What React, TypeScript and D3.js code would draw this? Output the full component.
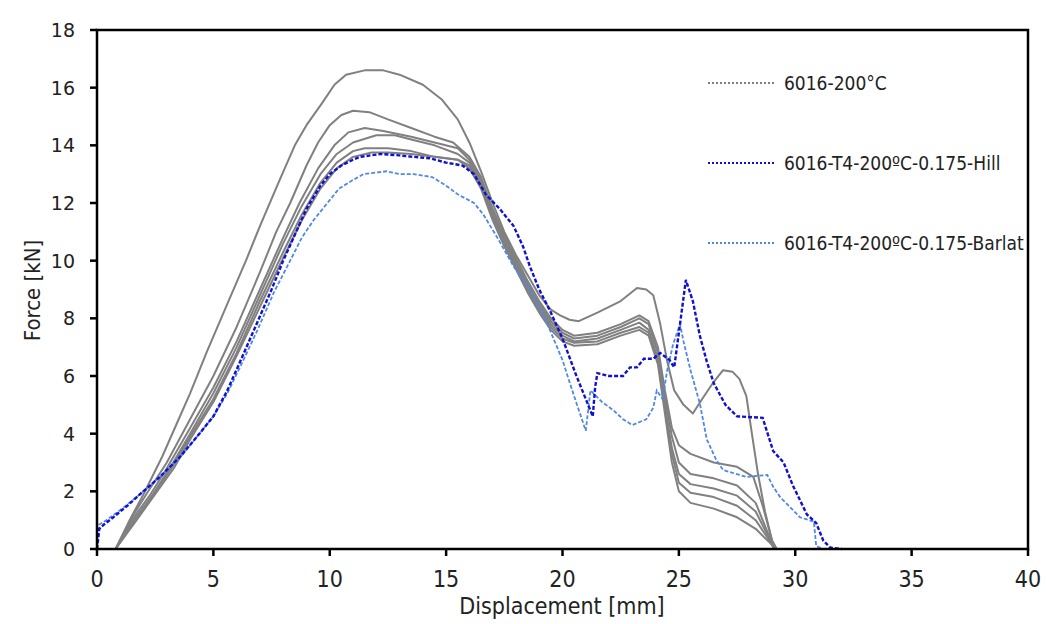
import React from "react";
import * as d3 from "d3";

// ---------- data ----------
const xTicks = [0, 5, 10, 15, 20, 25, 30, 35, 40];
const yTicks = [0, 2, 4, 6, 8, 10, 12, 14, 16, 18];

const legendLabels = ["6016-200°C", "6016-T4-200ºC-0.175-Hill", "6016-T4-200ºC-0.175-Barlat"];

const gray1: [number, number][] = [
  [0, 0], [0.8, 0], [1.4, 1.0], [2.0, 1.9], [2.8, 3.2], [3.4, 4.3], [4.0, 5.4], [4.7, 6.8], [5.6, 8.5], [6.4, 10.0],
  [7.0, 11.2], [7.9, 12.9], [8.5, 14.0], [9.0, 14.7], [9.7, 15.5], [10.2, 16.1], [10.7, 16.45], [11.5, 16.6], [12.3, 16.6],
  [13.0, 16.45], [14.0, 16.1], [14.8, 15.6], [15.5, 14.9], [16.0, 14.1], [16.5, 13.1], [17.0, 12.0], [17.5, 11.0], [18.0, 10.2],
  [18.5, 9.5], [19.0, 8.8], [19.5, 8.3], [19.9, 8.1], [20.3, 7.95], [20.7, 7.9], [21.5, 8.2], [22.5, 8.6], [23.2, 9.05],
  [23.6, 9.0], [23.9, 8.8], [24.2, 7.8], [24.5, 6.5], [24.8, 5.5], [25.2, 5.0], [25.6, 4.7], [26.0, 5.2], [26.5, 5.8],
  [26.9, 6.2], [27.3, 6.15], [27.6, 5.9], [27.9, 5.3], [28.1, 4.2], [28.4, 2.6], [28.7, 1.3], [29.0, 0.3], [29.2, 0],
];
const gray2: [number, number][] = [
  [0, 0], [0.8, 0], [1.5, 1.1], [2.2, 2.0], [3.0, 3.0], [4.0, 4.5], [5.0, 6.0], [6.0, 7.7], [7.0, 9.6], [7.7, 11.0], [8.3, 12.0],
  [9.0, 13.3], [9.5, 14.1], [10.0, 14.7], [10.5, 15.05], [11.0, 15.2], [11.7, 15.15], [12.5, 14.9], [13.5, 14.6], [14.5, 14.3],
  [15.3, 14.1], [16.0, 13.6], [16.5, 12.9], [17.0, 11.8], [17.5, 10.9], [18.0, 10.1], [18.5, 9.3], [19.0, 8.6], [19.5, 8.0],
  [20.0, 7.6], [20.5, 7.4], [21.5, 7.5], [22.5, 7.8], [23.3, 8.1], [23.7, 7.9], [24.1, 7.0], [24.4, 5.5], [24.7, 4.2],
  [25.0, 3.6], [25.5, 3.3], [26.5, 3.0], [27.5, 2.85], [28.2, 2.5], [28.6, 1.5], [29.0, 0.3], [29.2, 0],
];
const gray3: [number, number][] = [
  [0, 0], [0.8, 0], [1.5, 1.0], [2.3, 1.9], [3.0, 2.8], [4.0, 4.2], [5.0, 5.6], [6.0, 7.2], [7.0, 9.0], [8.0, 10.8], [8.7, 12.0],
  [9.5, 13.2], [10.2, 14.0], [10.8, 14.45], [11.5, 14.6], [12.3, 14.5], [13.5, 14.3], [14.5, 14.1], [15.5, 13.9], [16.0, 13.5],
  [16.5, 12.8], [17.0, 11.7], [17.5, 10.8], [18.0, 10.0], [18.5, 9.2], [19.0, 8.5], [19.5, 7.9], [20.0, 7.5], [20.5, 7.3],
  [21.5, 7.4], [22.5, 7.7], [23.3, 8.0], [23.7, 7.8], [24.1, 6.8], [24.4, 5.3], [24.7, 3.9], [25.0, 3.0], [25.5, 2.6],
  [26.5, 2.45], [27.5, 2.2], [28.3, 1.6], [28.8, 0.6], [29.1, 0],
];
const gray4: [number, number][] = [
  [0, 0], [0.8, 0], [1.6, 1.0], [2.4, 1.9], [3.2, 2.9], [4.0, 4.0], [5.0, 5.4], [6.0, 7.0], [7.0, 8.8], [8.0, 10.6], [8.8, 11.9],
  [9.6, 13.0], [10.3, 13.7], [11.0, 14.1], [12.0, 14.35], [12.8, 14.35], [13.5, 14.2], [14.5, 14.0], [15.5, 13.7], [16.0, 13.4],
  [16.5, 12.7], [17.0, 11.6], [17.5, 10.7], [18.0, 9.9], [18.5, 9.1], [19.0, 8.4], [19.5, 7.8], [20.0, 7.4], [20.5, 7.2],
  [21.5, 7.3], [22.5, 7.6], [23.3, 7.85], [23.7, 7.6], [24.1, 6.6], [24.4, 5.0], [24.7, 3.5], [25.0, 2.6], [25.5, 2.25],
  [26.5, 2.1], [27.5, 1.85], [28.3, 1.3], [28.8, 0.5], [29.1, 0],
];
const gray5: [number, number][] = [
  [0, 0], [0.8, 0], [1.6, 1.0], [2.4, 1.85], [3.2, 2.8], [4.0, 3.9], [5.0, 5.2], [6.0, 6.8], [7.0, 8.6], [8.0, 10.3], [8.8, 11.6],
  [9.6, 12.7], [10.3, 13.4], [11.0, 13.8], [11.5, 13.9], [12.5, 13.9], [13.5, 13.8], [14.5, 13.6], [15.5, 13.5], [16.0, 13.3],
  [16.5, 12.6], [17.0, 11.5], [17.5, 10.6], [18.0, 9.8], [18.5, 9.0], [19.0, 8.3], [19.5, 7.7], [20.0, 7.3], [20.5, 7.15],
  [21.5, 7.2], [22.5, 7.5], [23.3, 7.7], [23.7, 7.5], [24.1, 6.5], [24.4, 4.9], [24.7, 3.3], [25.0, 2.3], [25.5, 1.95],
  [26.5, 1.8], [27.5, 1.5], [28.3, 1.0], [28.8, 0.4], [29.1, 0],
];
const gray6: [number, number][] = [
  [0, 0], [0.8, 0], [1.7, 1.0], [2.5, 1.9], [3.3, 2.8], [4.0, 3.8], [5.0, 5.1], [6.0, 6.7], [7.0, 8.4], [8.0, 10.1], [8.8, 11.4],
  [9.6, 12.5], [10.3, 13.2], [11.0, 13.6], [11.8, 13.75], [12.5, 13.75], [13.5, 13.7], [14.5, 13.6], [15.5, 13.5], [16.0, 13.2],
  [16.5, 12.5], [17.0, 11.4], [17.5, 10.5], [18.0, 9.7], [18.5, 8.9], [19.0, 8.2], [19.5, 7.6], [20.0, 7.2], [20.5, 7.05],
  [21.5, 7.1], [22.5, 7.4], [23.3, 7.6], [23.7, 7.4], [24.1, 6.4], [24.4, 4.7], [24.7, 3.0], [25.0, 2.0], [25.5, 1.6],
  [26.5, 1.4], [27.5, 1.1], [28.3, 0.7], [28.8, 0.3], [29.2, 0], [35.0, 0],
];
const hill: [number, number][] = [
  [0, 0], [0.1, 0.7], [0.3, 0.85], [0.7, 1.1], [1.3, 1.5], [1.85, 1.9], [2.7, 2.5], [3.57, 3.2], [4.3, 3.9], [5.0, 4.6],
  [5.6, 5.5], [6.15, 6.5], [6.8, 7.7], [7.5, 9.0], [8.0, 10.0], [8.5, 10.9], [9.0, 11.8], [9.6, 12.6], [10.0, 13.0],
  [10.5, 13.3], [11.0, 13.5], [11.3, 13.6], [12.2, 13.7], [13.0, 13.65], [13.6, 13.6], [14.3, 13.55], [15.0, 13.4],
  [15.7, 13.3], [16.2, 13.0], [16.7, 12.3], [17.3, 11.8], [17.9, 11.2], [18.3, 10.5], [18.6, 9.8], [19.0, 9.0], [19.5, 8.2],
  [20.0, 7.3], [20.6, 6.0], [21.0, 5.2], [21.3, 4.6], [21.4, 5.6], [21.5, 6.1], [22.0, 6.0], [22.6, 6.0], [22.9, 6.3],
  [23.2, 6.3], [23.5, 6.6], [23.9, 6.6], [24.2, 6.8], [24.6, 6.55], [24.8, 6.3], [25.0, 7.5], [25.3, 9.33], [25.6, 8.6],
  [25.9, 7.4], [26.2, 6.5], [26.5, 5.75], [27.0, 5.0], [27.5, 4.6], [28.6, 4.55], [29.05, 3.4], [29.5, 3.0], [29.9, 2.2],
  [30.5, 1.2], [30.9, 0.9], [31.2, 0.3], [31.5, 0.05], [32.0, 0],
];
const barlat: [number, number][] = [
  [0, 0], [0.1, 0.85], [0.4, 1.0], [1.0, 1.35], [1.85, 1.9], [2.7, 2.5], [3.6, 3.2], [4.3, 3.9], [5.0, 4.6], [5.6, 5.4],
  [6.2, 6.4], [6.9, 7.6], [7.6, 8.9], [8.3, 10.0], [8.8, 10.8], [9.3, 11.4], [9.9, 12.0], [10.4, 12.5], [11.0, 12.8],
  [11.45, 13.0], [12.45, 13.1], [13.0, 13.0], [13.6, 13.0], [14.4, 12.9], [15.0, 12.6], [15.5, 12.3], [16.2, 12.0],
  [16.6, 11.6], [17.2, 10.8], [17.9, 9.8], [18.6, 9.0], [19.3, 7.9], [20.0, 6.55], [20.5, 5.3], [21.0, 4.1], [21.2, 5.5],
  [21.7, 5.1], [22.2, 4.8], [22.6, 4.5], [23.0, 4.3], [23.6, 4.5], [23.9, 4.9], [24.05, 5.5], [24.3, 5.2], [24.5, 6.2],
  [24.75, 7.1], [25.05, 7.8], [25.2, 7.2], [25.5, 6.2], [25.9, 5.05], [26.2, 3.8], [26.6, 3.1], [26.9, 2.74], [27.9, 2.5],
  [28.8, 2.57], [29.05, 2.16], [29.35, 1.8], [29.6, 1.6], [30.2, 1.1], [30.8, 0.95], [30.9, 0.1], [31.2, 0],
];

const grayCurves = [gray1, gray2, gray3, gray4, gray5, gray6];

// ---------- layout ----------
const W = 1047;
const H = 624;
const left = 97, right = 1028, top = 30, bottom = 549;

const GRAY = "#808080";
const HILL = "#1010d0";
const BARLAT = "#4f88e6";
const NARROW = "'Liberation Sans Narrow', 'DejaVu Sans Condensed', 'Liberation Sans', sans-serif";

export default function App() {
  const x = d3.scaleLinear().domain([0, 40]).range([left, right]);
  const y = d3.scaleLinear().domain([0, 18]).range([bottom, top]);
  const line = d3.line<[number, number]>().x((d) => x(d[0])).y((d) => y(d[1]));

  const legendColors = [GRAY, HILL, BARLAT];

  return (
    <svg width={W} height={H} style={{ position: "absolute", left: 0, top: 0, background: "#fff" }}>
      <rect x={0} y={0} width={W} height={H} fill="#fff" />
      {/* curves */}
      <g fill="none">
        {grayCurves.map((c, i) => (
          <path key={i} d={line(c) || ""} stroke={GRAY} strokeWidth={2} strokeLinejoin="round" />
        ))}
        <path d={line(barlat) || ""} stroke={BARLAT} strokeWidth={1.8} strokeDasharray="4,2" />
        <path d={line(hill) || ""} stroke={HILL} strokeWidth={2.4} strokeDasharray="4,2" />
      </g>

      {/* frame */}
      <rect x={left} y={top} width={right - left} height={bottom - top} fill="none" stroke="#000" strokeWidth={2.5} />

      {/* y axis ticks */}
      {yTicks.map((t) => (
        <g key={"y" + t}>
          <line x1={left - 7} x2={left} y1={y(t)} y2={y(t)} stroke="#000" strokeWidth={2.5} />
          <text x={left - 22} y={y(t)} dy="0.36em" textAnchor="end" fontFamily="'DejaVu Sans', sans-serif" fontSize={19} fill="#222">
            {t}
          </text>
        </g>
      ))}
      {/* x axis ticks */}
      {xTicks.map((t) => (
        <g key={"x" + t}>
          <line x1={x(t)} x2={x(t)} y1={bottom} y2={bottom + 7} stroke="#000" strokeWidth={2.5} />
          <text x={x(t)} y={bottom + 38} textAnchor="middle" fontFamily={NARROW} fontSize={23} fill="#222">
            {t}
          </text>
        </g>
      ))}

      {/* axis titles */}
      <text x={562} y={614} textAnchor="middle" fontFamily={NARROW} fontSize={23} fill="#222">
        Displacement [mm]
      </text>
      <text
        transform={`translate(40,${(top + bottom) / 2 + 1}) rotate(-90)`}
        textAnchor="middle"
        fontFamily={NARROW}
        fontSize={22}
        fill="#222"
      >
        Force [kN]
      </text>

      {/* legend */}
      {legendLabels.map((label, i) => {
        const ly = 83 + i * 80;
        return (
          <g key={"l" + i}>
            <line x1={708} x2={776} y1={ly} y2={ly} stroke={legendColors[i]} strokeWidth={2} strokeDasharray="2,2" />
            <text x={784} y={ly + 7} fontFamily={NARROW} fontSize={19} fill="#222">
              {label}
            </text>
          </g>
        );
      })}
    </svg>
  );
}
